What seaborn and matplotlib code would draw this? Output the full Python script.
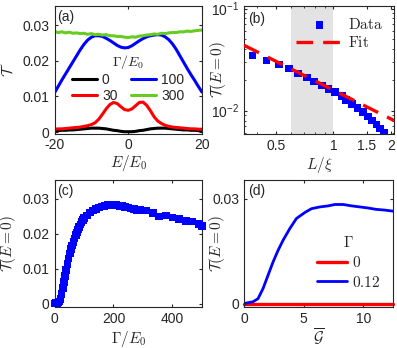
import numpy as np
import pandas as pd
import matplotlib
matplotlib.use("Agg")
import matplotlib.pyplot as plt
import seaborn as sns
from matplotlib.ticker import NullFormatter

# ---- data ----
# (a) transmission vs energy for four dephasing strengths
energy = list(range(-20, 21))
t_gamma0 = [0.0003, 0.0004, 0.0005, 0.0005, 0.0006, 0.0006, 0.0007, 0.0008, 0.0009, 0.0010, 0.0011,
            0.0011, 0.0011, 0.0010, 0.0009, 0.0007, 0.0005, 0.0004, 0.0002, 0.0001, 0.0001,
            0.0001, 0.0002, 0.0004, 0.0005, 0.0007, 0.0009, 0.0010, 0.0011, 0.0011, 0.0011,
            0.0010, 0.0009, 0.0008, 0.0007, 0.0006, 0.0006, 0.0005, 0.0005, 0.0004, 0.0003]
t_gamma30 = [0.0008, 0.0009, 0.0009, 0.0010, 0.0011, 0.0012, 0.0013, 0.0014, 0.0016, 0.0018, 0.0021,
             0.0026, 0.0036, 0.0050, 0.0065, 0.0077, 0.0083, 0.0080, 0.0071, 0.0063, 0.0061,
             0.0065, 0.0074, 0.0083, 0.0084, 0.0075, 0.0060, 0.0043, 0.0031, 0.0024, 0.0019,
             0.0016, 0.0014, 0.0013, 0.0012, 0.0011, 0.0010, 0.0009, 0.0009, 0.0008, 0.0008]
t_gamma100 = [0.0110, 0.0128, 0.0146, 0.0163, 0.0180, 0.0197, 0.0214, 0.0231, 0.0246, 0.0258, 0.0266,
              0.0270, 0.0270, 0.0268, 0.0263, 0.0257, 0.0250, 0.0243, 0.0238, 0.0236, 0.0237,
              0.0242, 0.0249, 0.0256, 0.0262, 0.0267, 0.0270, 0.0272, 0.0273, 0.0272, 0.0267,
              0.0259, 0.0247, 0.0232, 0.0214, 0.0196, 0.0178, 0.0161, 0.0145, 0.0128, 0.0112]
t_gamma300 = [0.0282, 0.0279, 0.0281, 0.0278, 0.0280, 0.0277, 0.0278, 0.0276, 0.0277, 0.0274, 0.0276,
              0.0273, 0.0274, 0.0272, 0.0273, 0.0270, 0.0270, 0.0268, 0.0268, 0.0266, 0.0265,
              0.0267, 0.0266, 0.0269, 0.0270, 0.0272, 0.0273, 0.0275, 0.0274, 0.0277, 0.0276,
              0.0278, 0.0279, 0.0279, 0.0281, 0.0281, 0.0283, 0.0282, 0.0284, 0.0285, 0.0286]
gamma_labels = ["0", "30", "100", "300"]

# (b) T(E=0) vs L/xi, log-log, with a power-law fit
L_xi = [0.377, 0.447, 0.517, 0.585, 0.655, 0.725, 0.792, 0.869, 0.942, 1.02,
        1.107, 1.166, 1.25, 1.34, 1.43, 1.52, 1.59, 1.68, 1.76, 1.85]
T_L = [0.0347, 0.0310, 0.0282, 0.0258, 0.0232, 0.0212, 0.0193, 0.0177, 0.0164, 0.0153,
       0.0139, 0.0127, 0.0116, 0.0106, 0.00963, 0.00877, 0.00803, 0.00731, 0.00670, 0.00600]
fit_L = [0.34, 2.08]
fit_T = [0.0437, 0.0080]
shade_L = (0.6, 1.0)

# (c) T(E=0) vs Gamma/E0
gamma_c = [0, 4, 8, 12, 16, 20, 24, 28, 32, 36, 40, 44, 48, 52, 56, 60, 64, 68, 72, 76, 80,
           84, 88, 92, 96, 100, 110, 120, 130, 140, 150, 160, 170, 180, 190, 200, 210, 220,
           230, 240, 250, 260, 270, 280, 290, 311, 333, 355, 378, 400, 422, 445, 467, 489, 500]
T_c = [0.0, 0.0001, 0.0002, 0.0003, 0.0006, 0.0012, 0.0028, 0.0045, 0.0062, 0.0079, 0.0096,
       0.0113, 0.0129, 0.0143, 0.0155, 0.0166, 0.0176, 0.0186, 0.0195, 0.0203, 0.0211,
       0.0219, 0.0226, 0.0233, 0.0239, 0.0245, 0.0252, 0.0260, 0.0266, 0.0270, 0.0274,
       0.0277, 0.0279, 0.0281, 0.0282, 0.0282, 0.0281, 0.0279, 0.0278, 0.0276, 0.0274,
       0.0272, 0.0270, 0.0268, 0.0267, 0.0266, 0.0258, 0.0249, 0.0252, 0.0246, 0.0241,
       0.0235, 0.0234, 0.0228, 0.0222]

# (d) T(E=0) vs mean conductance G
G_bar = [0.0, 0.76, 1.18, 1.6, 2.02, 2.44, 2.86, 3.28, 3.84, 4.4, 5.1, 5.66, 6.36,
         7.06, 7.62, 8.32, 9.03, 9.73, 10.4, 11.1, 11.8, 12.5]
T_d_012 = [0.0, 0.0005, 0.0014, 0.0043, 0.0081, 0.0119, 0.0152, 0.0181, 0.0214, 0.0243, 0.0260,
           0.0271, 0.0276, 0.0279, 0.0283, 0.0283, 0.0279, 0.0276, 0.0273, 0.0269, 0.0267, 0.0264]
T_d_0 = [0.0] * len(G_bar)

# ---- style ----
sns.set_style("ticks")
plt.rcParams["font.family"] = ["Liberation Sans", "DejaVu Sans"]
plt.rcParams["mathtext.fontset"] = "cm"
plt.rcParams["font.size"] = 10
plt.rcParams["xtick.direction"] = "in"
plt.rcParams["ytick.direction"] = "in"
plt.rcParams["xtick.top"] = True
plt.rcParams["ytick.right"] = True
plt.rcParams["xtick.major.size"] = 2.5
plt.rcParams["ytick.major.size"] = 2.5
plt.rcParams["xtick.minor.size"] = 1.5
plt.rcParams["ytick.minor.size"] = 1.5
plt.rcParams["axes.linewidth"] = 0.8
plt.rcParams["axes.edgecolor"] = "#262626"
plt.rcParams["xtick.color"] = "#262626"
plt.rcParams["ytick.color"] = "#262626"
plt.rcParams["axes.labelcolor"] = "#262626"

W, H = 397, 348
fig = plt.figure(figsize=(W / 100, H / 100), dpi=100)


def axes_px(left, top, right, bottom):
    return fig.add_axes([left / W, 1 - bottom / H, (right - left) / W, (bottom - top) / H])


ax_a = axes_px(54.5, 6.5, 202, 133.5)
ax_b = axes_px(244, 6, 394, 134)
ax_c = axes_px(54.5, 180, 202, 307)
ax_d = axes_px(244, 180, 393, 307)

green = "#66CC22"

# (a)
for vals, col, lab in zip([t_gamma0, t_gamma30, t_gamma100, t_gamma300],
                          ["black", "red", "blue", green], gamma_labels):
    sns.lineplot(x=energy, y=vals, color=col, lw=2.2, label=lab, ax=ax_a)
ax_a.set_xlim(-20, 20)
ax_a.set_ylim(-0.0004, 0.0352)
ax_a.set_xticks([-20, 0, 20])
ax_a.set_xticklabels(["-20", "0", "20"])
ax_a.set_yticks([0, 0.01, 0.02, 0.03])
ax_a.set_yticklabels(["0", "0.01", "0.02", "0.03"])
ax_a.set_xlabel(r"$E/E_0$", fontsize=11)
ax_a.set_ylabel(r"$\mathcal{T}$", fontsize=11)
ax_a.xaxis.set_label_coords(0.5, -0.15)
ax_a.yaxis.set_label_coords(-0.265, 0.5)
leg = ax_a.legend(ncol=2, loc="center", bbox_to_anchor=(0.5, 0.44), frameon=False,
                  title=r"$\Gamma/E_0$", handlelength=1.8, handletextpad=0.35,
                  columnspacing=1.0, labelspacing=0.15, fontsize=10, title_fontsize=10)
ax_a.text(0.02, 0.97, "(a)", transform=ax_a.transAxes, ha="left", va="top", fontsize=10)

# (b)
ax_b.axvspan(*shade_L, color="#E3E3E3", lw=0, zorder=0)
sns.scatterplot(x=L_xi, y=T_L, marker="s", s=30, color="blue", edgecolor="none",
                label=r"$\mathrm{Data}$", ax=ax_b, zorder=3)
sns.lineplot(x=fit_L, y=fit_T, color="red", lw=2.4, dashes=(5, 3), label=r"$\mathrm{Fit}$",
             ax=ax_b, zorder=4)
ax_b.set_xscale("log")
ax_b.set_yscale("log")
ax_b.set_xlim(0.34, 2.08)
ax_b.set_ylim(0.0059, 0.106)
ax_b.set_xticks([0.5, 1, 1.5, 2])
ax_b.set_xticklabels(["0.5", "1", "1.5", "2"])
ax_b.xaxis.set_minor_formatter(NullFormatter())
ax_b.yaxis.set_minor_formatter(NullFormatter())
ax_b.set_xlabel(r"$L/\xi$", fontsize=11)
ax_b.set_ylabel(r"$\mathcal{T}(E=0)$", fontsize=11)
ax_b.xaxis.set_label_coords(0.5, -0.165)
ax_b.yaxis.set_label_coords(-0.107, 0.5)
ax_b.legend(loc="upper right", bbox_to_anchor=(1.02, 1.02), frameon=False, handlelength=3.0,
            handletextpad=0.4, labelspacing=0.2, fontsize=11)
ax_b.text(0.03, 0.95, "(b)", transform=ax_b.transAxes, ha="left", va="top", fontsize=10)

# (c)
sns.scatterplot(x=gamma_c, y=T_c, marker="s", s=30, color="blue", edgecolor="none",
                ax=ax_c, clip_on=False, zorder=3)
ax_c.set_xlim(0, 500)
ax_c.set_ylim(-0.001, 0.0353)
ax_c.set_xticks([0, 200, 400])
ax_c.set_yticks([0, 0.01, 0.02, 0.03])
ax_c.set_yticklabels(["0", "0.01", "0.02", "0.03"])
ax_c.set_xlabel(r"$\Gamma/E_0$", fontsize=11)
ax_c.set_ylabel(r"$\mathcal{T}(E=0)$", fontsize=11)
ax_c.xaxis.set_label_coords(0.5, -0.175)
ax_c.yaxis.set_label_coords(-0.245, 0.5)
ax_c.text(0.02, 0.97, "(c)", transform=ax_c.transAxes, ha="left", va="top", fontsize=10)

# (d)
sns.lineplot(x=G_bar, y=T_d_0, color="red", lw=2.4, label=r"$0$", ax=ax_d, clip_on=False)
sns.lineplot(x=G_bar, y=T_d_012, color="blue", lw=2.0, label=r"$0.12$", ax=ax_d)
ax_d.set_xlim(0, 12.5)
ax_d.set_ylim(-0.001, 0.0353)
ax_d.set_xticks([0, 5, 10])
ax_d.set_yticks([0, 0.03])
ax_d.set_yticklabels(["0", "0.03"])
ax_d.set_xlabel(r"$\overline{\mathcal{G}}$", fontsize=11)
ax_d.set_ylabel(r"$\mathcal{T}(E=0)$", fontsize=11)
ax_d.xaxis.set_label_coords(0.5, -0.155)
ax_d.yaxis.set_label_coords(-0.114, 0.5)
ax_d.legend(loc="center", bbox_to_anchor=(0.7, 0.35), frameon=False, title=r"$\Gamma$",
            handlelength=2.0, handletextpad=0.3, labelspacing=0.3, fontsize=11,
            title_fontsize=11)
ax_d.text(0.03, 0.97, "(d)", transform=ax_d.transAxes, ha="left", va="top", fontsize=10)

fig.savefig("out.png", dpi=100)
